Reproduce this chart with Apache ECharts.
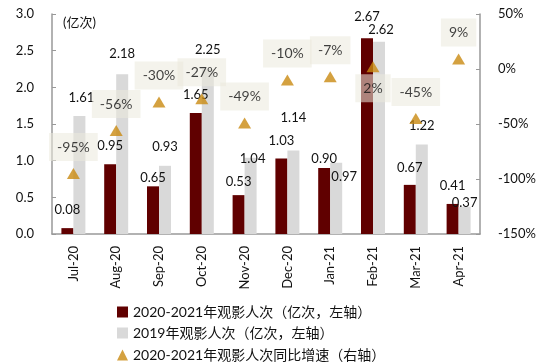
<!DOCTYPE html>
<html><head><meta charset="utf-8">
<script src="https://cdn.jsdelivr.net/npm/echarts@6/dist/echarts.min.js"></script>
<style>html,body{margin:0;padding:0;background:#fff}#c{width:550px;height:364px}</style>
</head><body><div id="c"></div>
<script>
const categories = ['Jul-20','Aug-20','Sep-20','Oct-20','Nov-20','Dec-20','Jan-21','Feb-21','Mar-21','Apr-21'];
const viewers2021 = [0.08,0.95,0.65,1.65,0.53,1.03,0.90,2.67,0.67,0.41];
const viewers2019 = [1.61,2.18,0.93,2.25,1.04,1.14,0.97,2.62,1.22,0.37];
const yoyGrowth = [-95,-56,-30,-27,-49,-10,-7,2,-45,9];
const leftTicks = [0,0.5,1.0,1.5,2.0,2.5,3.0];
const rightTicks = [-150,-100,-50,0,50];
const seriesNames = ['2020-2021年观影人次（亿次，左轴）','2019年观影人次（亿次，左轴）','2020-2021年观影人次同比增速（右轴）'];

// label placement tweaks (style only)
const off2021 = [[0,0],[0,0],[0,10],[0,0],[0,5],[0,1],[0,9],[0,-3],[0,1],[0,0]];
const off2019 = [[2,0],[0,-2],[0,0],[0,-1],[2,20],[0,-14],[8,32],[2,6],[0,0],[0,14]];
const legendTops = [300,321,343];
const legendIcons = ['rect','rect','triangle'];

const FONT = 'Lato, "Noto Sans CJK SC", sans-serif';
const chart = echarts.init(document.getElementById('c'));
const d21 = viewers2021.map((v,i)=>({value:v,label:{offset:off2021[i]}}));
const d19 = viewers2019.map((v,i)=>({value:v,label:{offset:off2019[i]}}));
const dy = yoyGrowth.map((v,i)=> categories[i]==='Feb-21'
  ? {value:v,label:{position:'bottom',distance:2}}
  : {value:v});

chart.setOption({
  animation:false,
  textStyle:{fontFamily:FONT},
  grid:{left:52,right:70,top:14,bottom:130},
  legend:seriesNames.map((n,i)=>({
    left:112,top:legendTops[i],itemWidth:11,itemHeight:11,itemGap:4,
    textStyle:{fontSize:14,color:'#111',fontFamily:FONT},
    data:[{name:n,icon:legendIcons[i]}]
  })),
  graphic:[{type:'text',left:63,top:16,style:{text:'(亿次)',fontSize:13,fill:'#111',fontFamily:FONT}}],
  xAxis:{
    type:'category',data:categories,
    axisLine:{lineStyle:{color:'#999',width:1.5}},
    axisTick:{inside:true,length:4,lineStyle:{color:'#999'}},
    axisLabel:{rotate:90,fontSize:13,color:'#111',margin:12,fontFamily:FONT}
  },
  yAxis:[{
    type:'value',min:leftTicks[0],max:leftTicks[leftTicks.length-1],interval:0.5,
    splitLine:{show:false},
    axisLine:{show:true,lineStyle:{color:'#999',width:1.5}},
    axisTick:{show:true,inside:true,length:4,lineStyle:{color:'#999'}},
    axisLabel:{fontSize:13,color:'#111',margin:18,formatter:v=>v.toFixed(1),fontFamily:FONT}
  },{
    type:'value',min:rightTicks[0],max:rightTicks[rightTicks.length-1],interval:50,
    splitLine:{show:false},
    axisLine:{show:true,lineStyle:{color:'#999',width:1.5}},
    axisTick:{show:true,inside:true,length:4,lineStyle:{color:'#999'}},
    axisLabel:{fontSize:13,color:'#111',margin:18,formatter:v=>v+'%',fontFamily:FONT}
  }],
  series:[{
    name:seriesNames[0],type:'bar',data:d21,barWidth:12,barGap:'0%',
    itemStyle:{color:'#600000'},
    label:{show:true,position:'top',distance:12,fontSize:13,color:'#111',formatter:p=>p.value.toFixed(2),fontFamily:FONT}
  },{
    name:seriesNames[1],type:'bar',data:d19,barWidth:12,barGap:'0%',
    itemStyle:{color:'#d9d9d9'},
    label:{show:true,position:'top',distance:12,fontSize:13,color:'#111',formatter:p=>p.value.toFixed(2),fontFamily:FONT}
  },{
    name:seriesNames[2],type:'scatter',yAxisIndex:1,data:dy,symbol:'triangle',symbolSize:[13,11],
    itemStyle:{color:'#c98a10'},z:5,
    label:{show:true,position:'top',distance:7,fontSize:14,color:'#111',formatter:p=>p.value+'%',
      backgroundColor:'rgba(236,234,222,0.7)',padding:[7,8],fontFamily:FONT}
  }]
});
</script></body></html>
